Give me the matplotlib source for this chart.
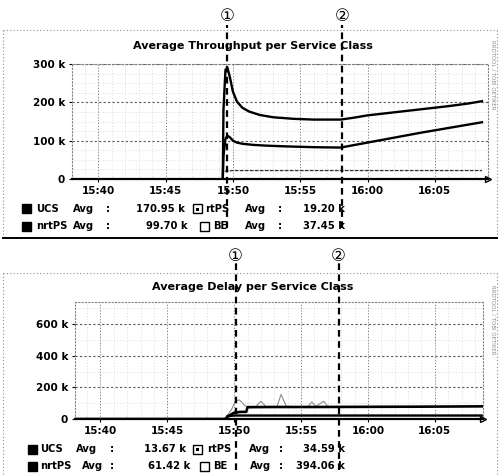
import matplotlib
matplotlib.use("Agg")
import matplotlib.pyplot as plt
from matplotlib.patches import Rectangle
from matplotlib.lines import Line2D

W, H = 500, 475

# time axis in minutes after 15:00
tick_minutes = [40, 45, 50, 55, 60, 65]
tick_labels = ["15:40", "15:45", "15:50", "15:55", "16:00", "16:05"]

# ---- throughput panel (values in k) ----
thr_ucs_t = [49.25, 49.3, 49.45, 49.6, 49.8, 50.0, 50.3, 50.7, 51.2, 52.0, 53.0, 54.5, 56.0, 58.0,
             59.0, 60.0, 61.5, 63.0, 64.5, 66.0, 67.5, 68.5]
thr_ucs_v = [0, 180, 285, 290, 262, 228, 202, 186, 176, 167, 161, 157, 155, 155,
             160, 166, 172, 178, 184, 190, 197, 203]
thr_nrtps_t = [49.25, 49.3, 49.45, 49.6, 49.8, 50.0, 50.3, 50.7, 51.5, 52.5, 54.0, 56.0, 58.0,
               60.0, 62.0, 64.0, 66.0, 68.5]
thr_nrtps_v = [0, 60, 105, 113, 108, 100, 95, 92, 89, 87, 85, 83, 82,
               95, 108, 121, 133, 148]
thr_rtps_t = [49.4, 50.0, 55.0, 60.0, 65.0, 68.5]
thr_rtps_v = [20, 22, 22, 22, 22, 22]
thr_yticks = [0, 100, 200, 300]
thr_ylabels = ["0", "100 k", "200 k", "300 k"]
thr_markers = [49.6, 58.1]
# order: UCS, nrtPS, rtPS, BE
thr_avgs = ["170.95 k", "99.70 k", "19.20 k", "37.45 k"]

# ---- delay panel (values in k) ----
del_nrtps_t = [38.0, 49.3, 49.6, 50.0, 50.5, 50.9, 51.0, 53.0, 56.0, 60.0, 64.0, 68.5]
del_nrtps_v = [0, 0, 20, 40, 45, 45, 75, 76, 76, 77, 78, 80]
del_ucs_t = [49.5, 50.0, 55.0, 60.0, 65.0, 68.5]
del_ucs_v = [18, 22, 22, 22, 22, 22]
del_be_t = [49.3, 49.8, 50.1, 50.4, 50.8, 51.2, 51.6, 52.0, 52.4, 53.2, 53.5, 53.9, 54.5, 55.5,
            55.8, 56.1, 56.7, 57.0, 57.4]
del_be_v = [0, 60, 115, 120, 85, 70, 78, 112, 76, 78, 155, 80, 76, 76,
            108, 80, 112, 78, 76]
del_yticks = [0, 200, 400, 600]
del_ylabels = ["0", "200 k", "400 k", "600 k"]
del_markers = [50.1, 57.8]
del_avgs = ["13.67 k", "61.42 k", "34.59 k", "394.06 k"]

fig = plt.figure(figsize=(5.0, 4.75), dpi=100)
fig.patch.set_facecolor("white")


def fx(x):
    return x / W


def fy(y):
    return 1 - y / H


def frame(top, bottom, solid_bottom):
    kw = dict(color="0.55", lw=0.8, ls=(0, (1, 2)), transform=fig.transFigure)
    fig.add_artist(Line2D([fx(3), fx(497)], [fy(top), fy(top)], **kw))
    fig.add_artist(Line2D([fx(3), fx(3)], [fy(top), fy(bottom)], **kw))
    fig.add_artist(Line2D([fx(497), fx(497)], [fy(top), fy(bottom)], **kw))
    if solid_bottom:
        fig.add_artist(Line2D([fx(3), fx(497)], [fy(bottom), fy(bottom)], color="black", lw=1.4,
                              transform=fig.transFigure))


def panel(rect, xlim, ylim, yticks, ylabels, minor_y, title, title_y, markers, mark_y, circ_y):
    ax = fig.add_axes(rect)
    ax.set_xlim(*xlim)
    ax.set_ylim(*ylim)
    for m in range(38, 69):
        ax.axvline(m, color="0.75", lw=0.5, ls=(0, (1, 3)), zorder=0)
    for m in tick_minutes:
        ax.axvline(m, color="0.45", lw=0.7, ls=(0, (1, 2)), zorder=0)
    for v in minor_y:
        ax.axhline(v, color="0.75", lw=0.5, ls=(0, (1, 3)), zorder=0)
    for v in yticks[1:]:
        ax.axhline(v, color="0.35", lw=0.8, ls=(0, (2, 2)), zorder=0)
    ax.set_xticks(tick_minutes)
    ax.set_xticklabels(tick_labels, fontsize=7.5, fontweight="bold")
    ax.set_yticks(yticks)
    ax.set_yticklabels(ylabels, fontsize=7.5, fontweight="bold")
    ax.tick_params(length=2, width=0.8, pad=3)
    for s in ["top", "right", "left"]:
        ax.spines[s].set_linestyle((0, (1, 2)))
        ax.spines[s].set_color("0.5")
        ax.spines[s].set_linewidth(0.8)
    ax.spines["bottom"].set_linewidth(1.6)
    ax.plot([1.0], [0], marker=">", ms=5, mfc="white", mec="black", transform=ax.transAxes,
            clip_on=False)
    fig.text(0.505, fy(title_y), title, ha="center", va="center", fontsize=8, fontweight="bold")
    for i, m in enumerate(markers):
        ax.axvline(m, ymin=mark_y[0], ymax=mark_y[1], color="black", lw=1.6, ls=(0, (3, 2)),
                   clip_on=False, zorder=5)
        ax.text(m, ylim[1] + (ylim[1] - ylim[0]) * circ_y, ["\u2460", "\u2461"][i], ha="center",
                va="center", fontsize=12, family=["DejaVu Sans", "Noto Sans CJK JP"], clip_on=False)
    return ax


def legend(rows_y, xs, names, avgs):
    box_x, name_x, avg_x, colon_x, val_x = xs
    order = [[0, 2], [1, 3]]
    for r, y in enumerate(rows_y):
        for c in range(2):
            kind = "black" if c == 0 else ["dot", "white"][r]
            bx = box_x[c][r]
            fc = "black" if kind == "black" else "white"
            fig.add_artist(Rectangle((fx(bx), fy(y + 4.5)), 9 / W, 9 / H, facecolor=fc,
                                     edgecolor="black", lw=1.0, transform=fig.transFigure))
            if kind == "dot":
                fig.add_artist(Rectangle((fx(bx + 3), fy(y + 1.5)), 3 / W, 3 / H, facecolor="black",
                                         edgecolor="none", transform=fig.transFigure))
            kw = dict(va="center", fontsize=7.2, fontweight="bold")
            fig.text(fx(name_x[c][r]), fy(y), names[r][c], ha="left", **kw)
            fig.text(fx(avg_x[c][r]), fy(y), "Avg", ha="left", **kw)
            fig.text(fx(colon_x[c]), fy(y), ":", ha="left", **kw)
            fig.text(fx(val_x[c][r]), fy(y), avgs[order[r][c]], ha="right", **kw)


# ---------------- top panel ----------------
frame(30, 238, True)
ax1 = panel([fx(72), fy(179), (488 - 72) / W, (179 - 64) / H], (38.05, 68.95), (0, 300),
            thr_yticks, thr_ylabels, [25, 50, 75, 125, 150, 175, 225, 250, 275],
            "Average Throughput per Service Class", 46, thr_markers, (-0.43, 1.34), 0.42)
ax1.plot(thr_ucs_t, thr_ucs_v, color="black", lw=1.7, zorder=3)
ax1.plot(thr_nrtps_t, thr_nrtps_v, color="black", lw=1.7, zorder=3)
ax1.plot(thr_rtps_t, thr_rtps_v, color="0.2", lw=0.9, ls=(0, (3, 1)), zorder=3)
fig.text(fx(493), fy(75), "RRDTOOL / TOBI OETIKER", rotation=270, ha="center", va="center",
         fontsize=4, color="0.55")
legend([209, 226],
       ([[22, 22], [193, 200]], [[36, 36], [205, 213]], [[73, 73], [245, 245]], [106, 278],
        [[185, 188], [345, 345]]),
       [["UCS", "rtPS"], ["nrtPS", "BE"]], thr_avgs)

# ---------------- bottom panel ----------------
frame(273, 476, False)
ax2 = panel([fx(75), fy(419), (483 - 75) / W, (419 - 302) / H], (38.1, 68.6), (0, 740),
            del_yticks, del_ylabels, [100, 300, 500, 700],
            "Average Delay per Service Class", 287, del_markers, (-0.44, 1.33), 0.39)
ax2.plot(del_be_t, del_be_v, color="0.55", lw=0.8, zorder=2)
ax2.plot(del_nrtps_t, del_nrtps_v, color="black", lw=1.9, zorder=3)
ax2.plot(del_ucs_t, del_ucs_v, color="black", lw=1.7, zorder=3)
fig.text(fx(493), fy(320), "RRDTOOL / TOBI OETIKER", rotation=270, ha="center", va="center",
         fontsize=4, color="0.55")
legend([449, 466],
       ([[28, 28], [193, 200]], [[40, 40], [207, 213]], [[76, 82], [249, 250]], [110, 279],
        [[186, 190], [345, 345]]),
       [["UCS", "rtPS"], ["nrtPS", "BE"]], del_avgs)

fig.savefig("out.png", dpi=100, facecolor="white")
